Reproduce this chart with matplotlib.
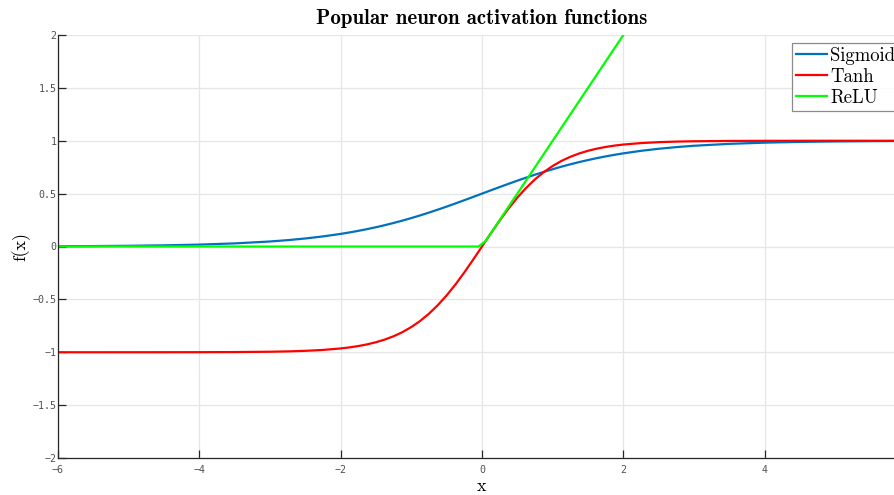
import numpy as np
import matplotlib
matplotlib.use("Agg")
import matplotlib.pyplot as plt

# values
x_curve = [-6, -5.5, -5, -4.5, -4, -3.5, -3, -2.75, -2.5, -2.25,
           -2, -1.875, -1.75, -1.625, -1.5, -1.375, -1.25, -1.125,
           -1, -0.875, -0.75, -0.625, -0.5, -0.375, -0.25, -0.125,
           0, 0.125, 0.25, 0.375, 0.5, 0.625, 0.75, 0.875,
           1, 1.125, 1.25, 1.375, 1.5, 1.625, 1.75, 1.875,
           2, 2.25, 2.5, 2.75, 3, 3.5, 4, 4.5, 5, 5.5, 6]
sigmoid_y = [0.0025, 0.0041, 0.0067, 0.0110, 0.0180, 0.0293, 0.0474, 0.0601, 0.0759, 0.0953,
             0.1192, 0.1330, 0.1480, 0.1645, 0.1824, 0.2018, 0.2227, 0.2451,
             0.2689, 0.2942, 0.3208, 0.3486, 0.3775, 0.4073, 0.4378, 0.4688,
             0.5, 0.5312, 0.5622, 0.5927, 0.6225, 0.6514, 0.6792, 0.7058,
             0.7311, 0.7549, 0.7773, 0.7982, 0.8176, 0.8355, 0.8520, 0.8670,
             0.8808, 0.9047, 0.9241, 0.9399, 0.9526, 0.9707, 0.9820, 0.9890, 0.9933, 0.9959, 0.9975]
tanh_y = [-1.0, -1.0, -0.9999, -0.9998, -0.9993, -0.9982, -0.9951, -0.9919, -0.9866, -0.9780,
          -0.9640, -0.9541, -0.9414, -0.9254, -0.9051, -0.8799, -0.8483, -0.8095,
          -0.7616, -0.7039, -0.6351, -0.5546, -0.4621, -0.3584, -0.2449, -0.1244,
          0.0, 0.1244, 0.2449, 0.3584, 0.4621, 0.5546, 0.6351, 0.7039,
          0.7616, 0.8095, 0.8483, 0.8799, 0.9051, 0.9254, 0.9414, 0.9541,
          0.9640, 0.9780, 0.9866, 0.9919, 0.9951, 0.9982, 0.9993, 0.9998, 0.9999, 1.0, 1.0]
x_relu = [-6, -0.05, 0.05, 2, 6]
relu_y = [0, 0, 0.05, 2, 6]

x_ticks = [-6, -4, -2, 0, 2, 4]
y_ticks = [-2, -1.5, -1, -0.5, 0, 0.5, 1, 1.5, 2]

fig = plt.figure(figsize=(8.94, 4.95), dpi=100)
ax = fig.add_axes([58/894, 37/495, 848/894, 423/495])

ax.plot(x_curve, sigmoid_y, color="#0072BD", lw=1.6, label="Sigmoid")
ax.plot(x_curve, tanh_y, color="#FF0000", lw=1.6, label="Tanh")
ax.plot(x_relu, relu_y, color="#00FF00", lw=1.6, label="ReLU")

ax.set_xlim(-6, 6)
ax.set_ylim(-2, 2)
ax.set_xticks(x_ticks)
ax.set_yticks(y_ticks)
ax.set_yticklabels([("%g" % v).replace("-", "\u2212") for v in y_ticks])
ax.set_xticklabels([("%g" % v).replace("-", "\u2212") for v in x_ticks])
ax.grid(True, color="#e6e6e6", lw=0.9)
ax.set_axisbelow(True)

for s in ["top", "right"]:
    ax.spines[s].set_visible(False)
for s in ["left", "bottom"]:
    ax.spines[s].set_color("#262626")
    ax.spines[s].set_linewidth(0.9)

ax.tick_params(direction="in", length=6, width=0.9, color="#262626",
               labelcolor="#505050", labelsize=7.2)
ax.tick_params(axis="y", pad=1)
ax.tick_params(axis="x", pad=5)
for lab in ax.get_xticklabels() + ax.get_yticklabels():
    lab.set_family("DejaVu Sans Mono")

ax.set_title("Popular neuron activation functions", family="cmb10", fontsize=15, pad=8)
ax.set_xlabel("x", family="cmr10", fontsize=13, labelpad=3)
ax.set_ylabel("f(x)", family="cmr10", fontsize=13)
ax.yaxis.set_label_coords(-0.032, 0.5)

leg = ax.legend(loc="upper left", bbox_to_anchor=(792/894, 1 - 43/495),
                bbox_transform=fig.transFigure, borderaxespad=0, fancybox=False,
                prop={"family": "cmr10", "size": 13.5}, handlelength=1.65,
                handletextpad=0.2, labelspacing=0.17, borderpad=0.2)
leg.get_frame().set_edgecolor("#6e6e6e")
leg.get_frame().set_linewidth(0.9)

fig.savefig("out.png", dpi=100)
